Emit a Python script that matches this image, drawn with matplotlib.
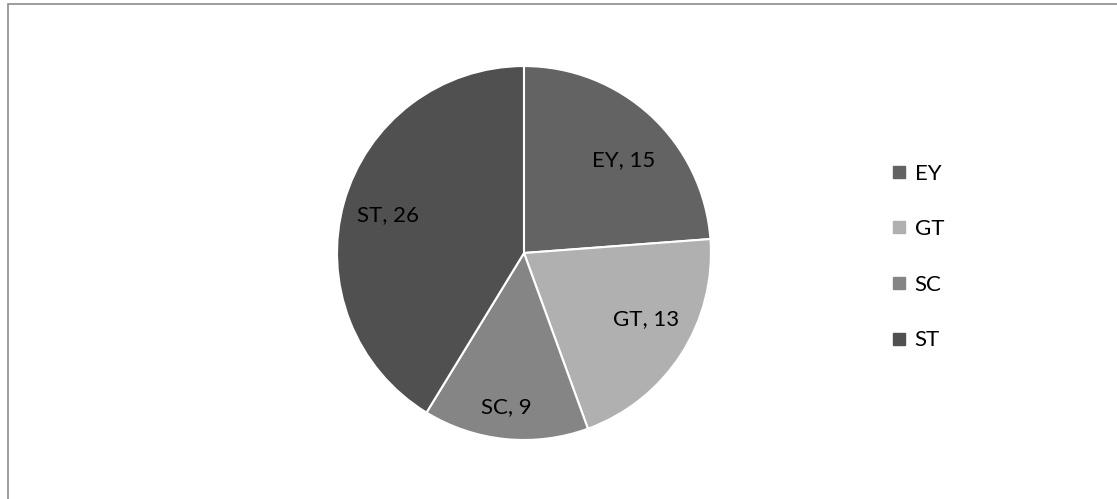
import numpy as np
import matplotlib.pyplot as plt
from matplotlib.patches import Rectangle
from matplotlib.lines import Line2D

plt.rcParams['font.family'] = ['Lato', 'DejaVu Sans']

# data
labels = ['EY', 'GT', 'SC', 'ST']
values = [15, 13, 9, 26]
colors = ['#636363', '#b0b0b0', '#858585', '#505050']
# data label placement: fraction of radius, and angle nudge in degrees
label_r = [0.73, 0.74, 0.83, 0.755]
label_da = [-4, 4.5, -1, 0]

fig = plt.figure(figsize=(11.17, 4.99), dpi=100)
# outer chart frame
fig.patches.append(Rectangle((8/1117, -0.1), 1.2, 1 - 4/499 + 0.1,
                             transform=fig.transFigure, fill=False,
                             edgecolor='#8c8c8c', linewidth=1.2))

ax = fig.add_axes([0.3017, 0.1182, 0.3348, 0.7495])
wedges, _ = ax.pie(values, colors=colors, startangle=90, counterclock=False,
                   wedgeprops=dict(edgecolor='white', linewidth=1.5))
ax.set_xlim(-1, 1)
ax.set_ylim(-1, 1)
ax.set_aspect('equal')

for w, lab, v, r, da in zip(wedges, labels, values, label_r, label_da):
    mid = np.deg2rad((w.theta1 + w.theta2) / 2 + da)
    ax.text(r*np.cos(mid), r*np.sin(mid), f'{lab}, {v}', ha='center', va='center',
            fontsize=16, color='black')

handles = [Line2D([], [], marker='s', linestyle='none', markersize=8,
                  markerfacecolor=c, markeredgecolor=c) for c in colors]
fig.legend(handles, labels, loc='center left', bbox_to_anchor=(0.777, 0.485),
           frameon=False, fontsize=16, labelspacing=1.6, handletextpad=0.2,
           handlelength=1.0)

plt.savefig('out.png', dpi=100)
